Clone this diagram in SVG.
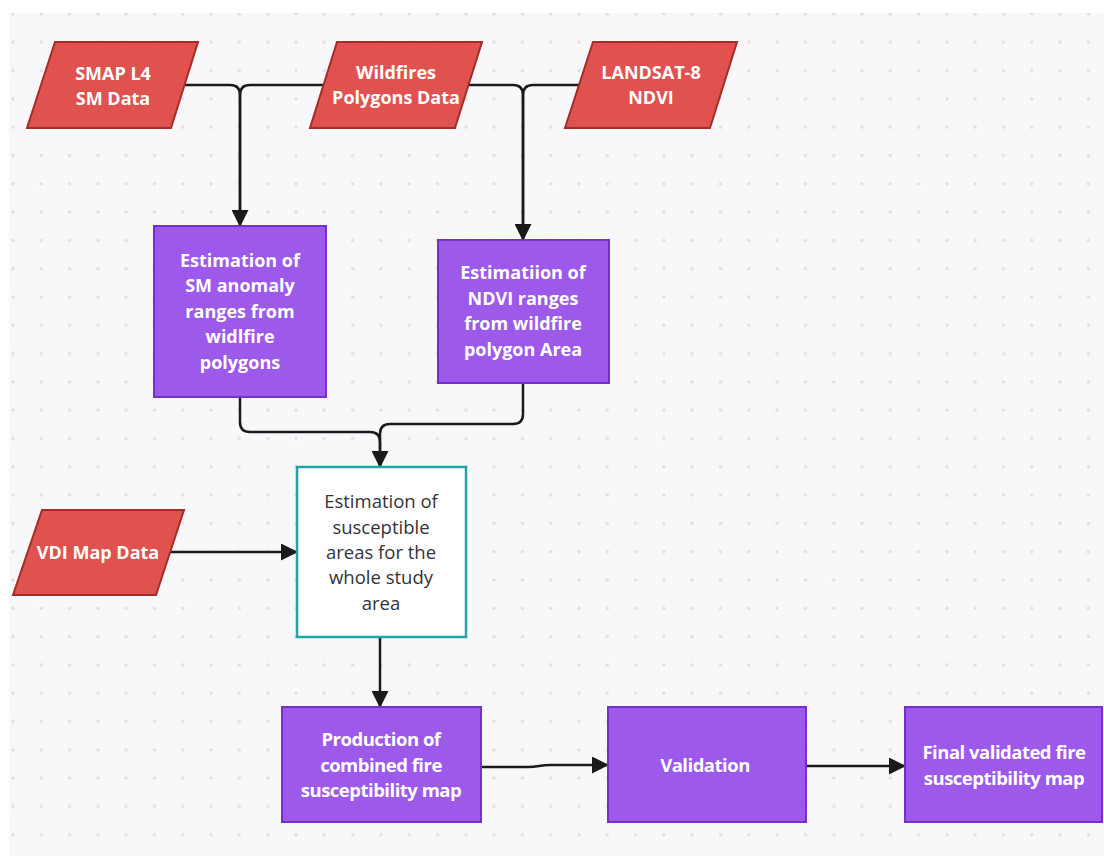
<svg xmlns="http://www.w3.org/2000/svg" width="1104" height="856" viewBox="0 0 1104 856">
<defs>
<pattern id="dots" x="13" y="14" width="28.3" height="28.3" patternUnits="userSpaceOnUse">
<circle cx="0" cy="0" r="1.7" fill="#dddde2"/><circle cx="28.3" cy="0" r="1.7" fill="#dddde2"/><circle cx="0" cy="28.3" r="1.7" fill="#dddde2"/><circle cx="28.3" cy="28.3" r="1.7" fill="#dddde2"/>
</pattern>
<marker id="arr" markerUnits="userSpaceOnUse" markerWidth="17" markerHeight="17" refX="16" refY="8.5" orient="auto">
<path d="M0,0 L17,8.5 L0,17 Z" fill="#1a1a1a"/>
</marker>
<style>
.data{fill:#e0524f;stroke:#a52c27;stroke-width:2}
.proc{fill:#9c59ea;stroke:#7530cc;stroke-width:2}
.white{fill:#ffffff;stroke:#1ea6a6;stroke-width:2.5}
.lt{font-family:"Open Sans","Noto Sans","Liberation Sans",sans-serif;font-weight:700;font-size:18px;fill:#ffffff;text-anchor:middle}
.lb{font-family:"Open Sans","Noto Sans","Liberation Sans",sans-serif;font-weight:700;font-size:18.5px;letter-spacing:-0.5px;fill:#ffffff;text-anchor:middle}
.dk{font-family:"Open Sans","Noto Sans","Liberation Sans",sans-serif;font-weight:400;font-size:18.5px;fill:#333338;text-anchor:middle}
.c{fill:none;stroke:#1a1a1a;stroke-width:2.5}
</style>
</defs>
<rect x="0" y="0" width="1104" height="856" fill="#ffffff"/>
<rect x="9" y="13" width="1095" height="843" fill="#f8f8fb"/>
<rect x="9" y="13" width="1095" height="843" fill="url(#dots)"/>

<g id="connectors">
<path class="c" d="M184,85 H230 Q240,85 240,95 V226" marker-end="url(#arr)"/>
<path class="c" d="M323,85 H250 Q240,85 240,95 V226"/>
<path class="c" d="M468,85 H513 Q523,85 523,95 V240" marker-end="url(#arr)"/>
<path class="c" d="M579,85 H533 Q523,85 523,95 V240"/>
<path class="c" d="M240,397 V422 Q240,432 250,432 H370 Q380,432 380,442 V467" marker-end="url(#arr)"/>
<path class="c" d="M523,383 V414 Q523,424 513,424 H390 Q380,424 380,434 V467"/>
<path class="c" d="M170,552 H297" marker-end="url(#arr)"/>
<path class="c" d="M380,637 V707" marker-end="url(#arr)"/>
<path class="c" d="M482,767 H528 C538,767 540,765 550,765 H608" marker-end="url(#arr)"/>
<path class="c" d="M806,766 H905" marker-end="url(#arr)"/>
</g>

<g id="smap">
<polygon class="data" points="55,42 198,42 171,128 27,128"/>
<text class="lt" x="113" y="80">SMAP L4</text>
<text class="lt" x="113" y="105">SM Data</text>
</g>
<g id="wildfires">
<polygon class="data" points="337,42 482,42 455,128 310,128"/>
<text class="lt" x="396" y="79">Wildfires</text>
<text class="lt" x="396" y="104">Polygons Data</text>
</g>
<g id="landsat">
<polygon class="data" points="593,42 737,42 710,128 565,128"/>
<text class="lt" x="651" y="79">LANDSAT-8</text>
<text class="lt" x="651" y="104">NDVI</text>
</g>
<g id="sm-estimation">
<rect class="proc" x="154" y="226" width="172" height="171"/>
<text class="lt" x="240" y="267">Estimation of</text>
<text class="lt" x="240" y="292">SM anomaly</text>
<text class="lt" x="240" y="318">ranges from</text>
<text class="lt" x="240" y="343">widlfire</text>
<text class="lt" x="240" y="369">polygons</text>
</g>
<g id="ndvi-estimation">
<rect class="proc" x="438" y="240" width="171" height="143"/>
<text class="lt" x="523" y="279">Estimatiion of</text>
<text class="lt" x="523" y="305">NDVI ranges</text>
<text class="lt" x="523" y="330">from wildfire</text>
<text class="lt" x="523" y="356">polygon Area</text>
</g>
<g id="vdi">
<polygon class="data" points="42,510 184,510 156,595 13,595"/>
<text class="lt" x="98" y="559">VDI Map Data</text>
</g>
<g id="susceptible">
<rect class="white" x="297" y="467" width="169" height="170"/>
<text class="dk" x="381" y="508">Estimation of</text>
<text class="dk" x="381" y="534">susceptible</text>
<text class="dk" x="381" y="559">areas for the</text>
<text class="dk" x="381" y="584">whole study</text>
<text class="dk" x="381" y="610">area</text>
</g>
<g id="production">
<rect class="proc" x="282" y="707" width="199" height="115"/>
<text class="lb" x="381" y="746">Production of</text>
<text class="lb" x="381" y="772">combined fire</text>
<text class="lb" x="381" y="797">susceptibility map</text>
</g>
<g id="validation">
<rect class="proc" x="608" y="707" width="198" height="115"/>
<text class="lb" x="705" y="772">Validation</text>
</g>
<g id="final">
<rect class="proc" x="905" y="707" width="197" height="115"/>
<text class="lb" x="1004" y="759">Final validated fire</text>
<text class="lb" x="1004" y="785">susceptibility map</text>
</g>
</svg>
